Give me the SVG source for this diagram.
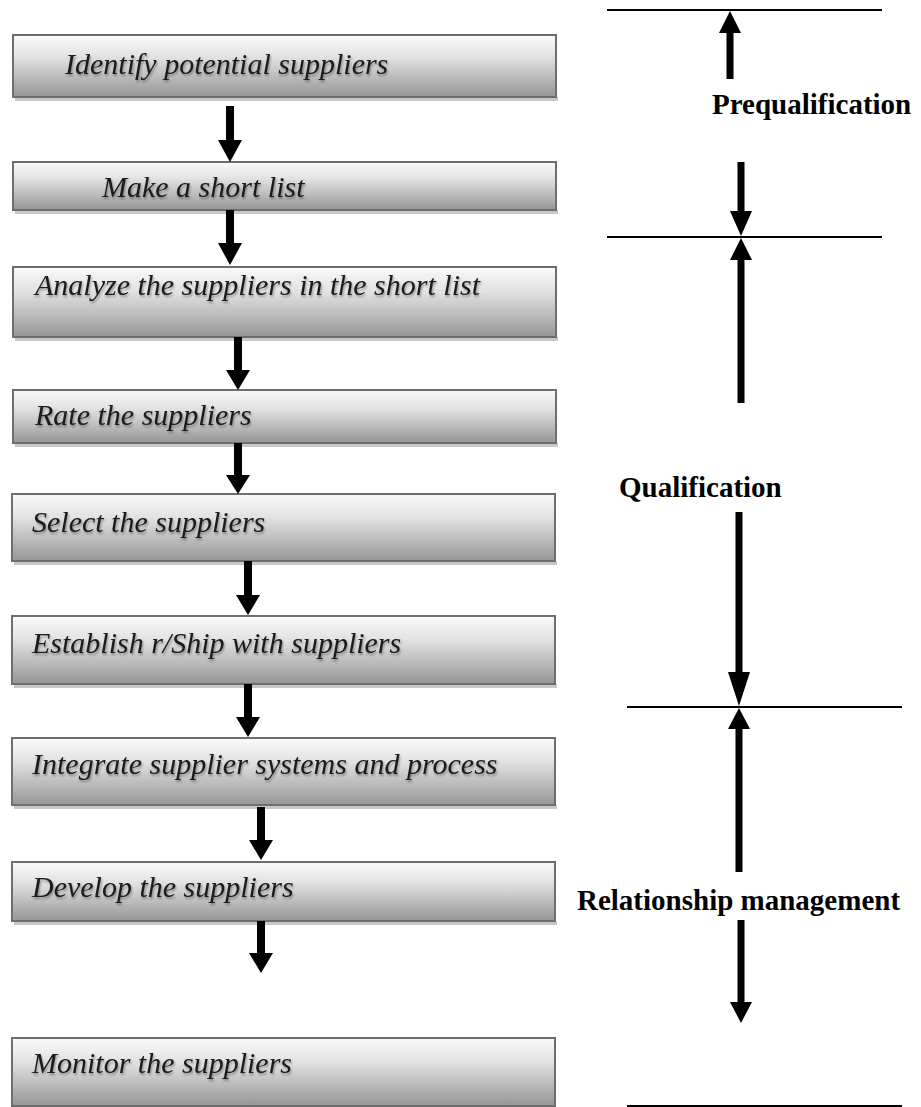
<svg xmlns="http://www.w3.org/2000/svg" width="921" height="1107" viewBox="0 0 921 1107">
<defs>
<linearGradient id="boxfill" x1="0" y1="0" x2="0" y2="1">
<stop offset="0" stop-color="#fafafa"/>
<stop offset="0.35" stop-color="#e2e2e2"/>
<stop offset="1" stop-color="#969696"/>
</linearGradient>
<filter id="ts" x="-5%" y="-20%" width="110%" height="140%">
<feDropShadow dx="1" dy="2" stdDeviation="1" flood-color="#000" flood-opacity="0.35"/>
</filter>
</defs>
<style>
.box{fill:url(#boxfill);stroke:#6e6e6e;stroke-width:2}
.shadow{fill:#c8c8c8}
.bt{font-family:"Liberation Serif","Times New Roman",serif;font-style:italic;font-size:30px;fill:#1a1a1a;filter:url(#ts)}
.lbl{font-family:"Liberation Serif","Times New Roman",serif;font-weight:bold;font-size:29px;fill:#000}
.hl{stroke:#000;stroke-width:2}
.sh{fill:#000}
</style>
<rect width="921" height="1107" fill="#fff"/>

<g id="n1"><rect class="shadow" x="15" y="97" width="543" height="4"/><rect class="box" x="13" y="35" width="543" height="62"/><text class="bt" x="65" y="74">Identify potential suppliers</text></g>
<g id="n2"><rect class="shadow" x="15" y="210" width="543" height="4"/><rect class="box" x="13" y="162" width="543" height="48"/><text class="bt" x="102" y="197">Make a short list</text></g>
<g id="n3"><rect class="shadow" x="15" y="337" width="543" height="4"/><rect class="box" x="13" y="267" width="543" height="70"/><text class="bt" x="35" y="295">Analyze the suppliers in the short list</text></g>
<g id="n4"><rect class="shadow" x="15" y="443" width="543" height="4"/><rect class="box" x="13" y="390" width="543" height="53"/><text class="bt" x="35" y="425">Rate the suppliers</text></g>
<g id="n5"><rect class="shadow" x="14" y="561" width="543" height="4"/><rect class="box" x="12" y="494" width="543" height="67"/><text class="bt" x="32" y="532">Select the suppliers</text></g>
<g id="n6"><rect class="shadow" x="14" y="684" width="543" height="4"/><rect class="box" x="12" y="616" width="543" height="68"/><text class="bt" x="32" y="653">Establish r/Ship with suppliers</text></g>
<g id="n7"><rect class="shadow" x="14" y="805" width="543" height="4"/><rect class="box" x="12" y="738" width="543" height="67"/><text class="bt" x="32" y="774">Integrate supplier systems and process</text></g>
<g id="n8"><rect class="shadow" x="14" y="921" width="543" height="4"/><rect class="box" x="12" y="862" width="543" height="59"/><text class="bt" x="32" y="897">Develop the suppliers</text></g>
<g id="n9"><rect class="box" x="12" y="1038" width="543" height="68"/><text class="bt" x="32" y="1073">Monitor the suppliers</text></g>

<g id="phase-labels">
<text class="lbl" x="712" y="114">Prequalification</text>
<text class="lbl" x="619" y="497">Qualification</text>
<text class="lbl" x="577" y="910">Relationship management</text>
</g>

<g id="connectors">
<!-- left flow arrows -->
<rect class="sh" x="226" y="106" width="8" height="35"/><polygon class="sh" points="218,140 242,140 230,162"/>
<rect class="sh" x="226" y="210" width="8" height="34"/><polygon class="sh" points="218,243 242,243 230,265"/>
<rect class="sh" x="234" y="337" width="8" height="34"/><polygon class="sh" points="226,370 250,370 238,390"/>
<rect class="sh" x="234" y="443" width="8" height="33"/><polygon class="sh" points="226,475 250,475 238,494"/>
<rect class="sh" x="244" y="561" width="8" height="35"/><polygon class="sh" points="236,595 260,595 248,615"/>
<rect class="sh" x="244" y="684" width="8" height="34"/><polygon class="sh" points="236,717 260,717 248,737"/>
<rect class="sh" x="257" y="807" width="8" height="34"/><polygon class="sh" points="249,840 273,840 261,860"/>
<rect class="sh" x="257" y="921" width="8" height="33"/><polygon class="sh" points="249,953 273,953 261,973"/>

<!-- phase boundary lines -->
<line class="hl" x1="607" y1="10" x2="882" y2="10"/>
<line class="hl" x1="607" y1="237" x2="882" y2="237"/>
<line class="hl" x1="627" y1="707" x2="902" y2="707"/>
<line class="hl" x1="627" y1="1106" x2="902" y2="1106"/>

<!-- right phase arrows -->
<polygon class="sh" points="730,11 719,33 741,33"/><rect class="sh" x="726.5" y="32" width="7" height="47"/>
<rect class="sh" x="737.5" y="162" width="7" height="50"/><polygon class="sh" points="730,211 752,211 741,236"/>
<polygon class="sh" points="741,238 730,260 752,260"/><rect class="sh" x="737.5" y="259" width="7" height="144"/>
<rect class="sh" x="735.5" y="512" width="7" height="161"/><polygon class="sh" points="728,672 750,672 739,706"/>
<polygon class="sh" points="739,708 728,729 750,729"/><rect class="sh" x="735.5" y="728" width="7" height="144"/>
<rect class="sh" x="737.5" y="920" width="7" height="83"/><polygon class="sh" points="730,1002 752,1002 741,1023"/>
</g>
</svg>
